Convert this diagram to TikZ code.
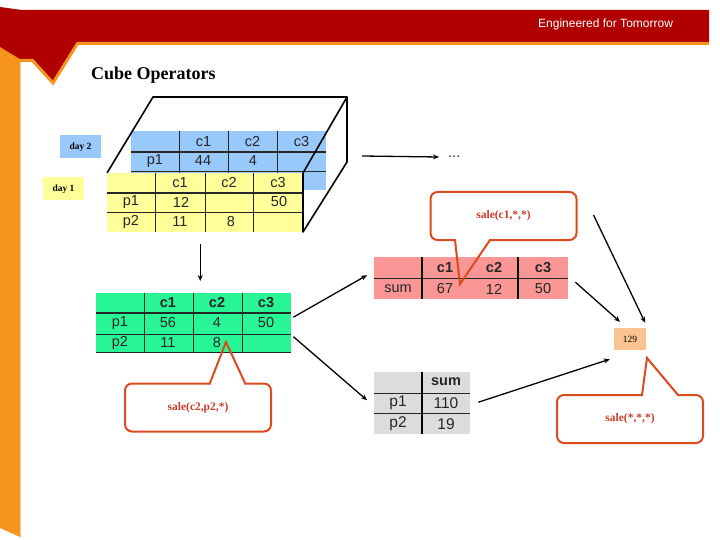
\documentclass[tikz,border=0pt]{standalone}
\usepackage{fontspec}
\setmainfont{Liberation Serif}
\setsansfont{Liberation Sans}
\definecolor{headred}{RGB}{176,0,0}
\definecolor{headorange}{RGB}{247,148,29}
\definecolor{daytwo}{RGB}{153,200,250}
\definecolor{dayone}{RGB}{255,255,153}
\definecolor{sliceg}{RGB}{40,245,150}
\definecolor{slicep}{RGB}{250,150,150}
\definecolor{sliceq}{RGB}{220,220,220}
\definecolor{peach}{RGB}{250,195,145}
\definecolor{calred}{RGB}{220,75,30}
\definecolor{caltext}{RGB}{200,60,40}
\usetikzlibrary{arrows.meta,positioning}

\begin{document}
\begin{tikzpicture}[x=1pt,y=-1pt,
  cubeline/.style={line width=1.6pt,line join=round},
  tab/.style={inner sep=0pt,anchor=north west},
  rule/.style={line width=0.9pt,black!85},
  headrule/.style={line width=1.8pt,black!85},
  cell/.style={font=\sffamily\fontsize{14.5}{15}\selectfont,text=black!85,inner sep=0pt},
  hcell/.style={cell,font=\sffamily\bfseries\fontsize{14.5}{15}\selectfont},
  daylbl/.style={font=\bfseries\fontsize{9.5}{10}\selectfont,minimum width=41pt,minimum height=23pt,inner sep=0pt},
  flow/.style={-{Stealth[length=6pt,width=5pt]},line width=1.3pt},
  callout/.style={draw=calred,line width=2pt,rounded corners=7pt,fill=white,text=caltext,
    minimum width=146pt,minimum height=48pt,font=\bfseries\fontsize{11.5}{12}\selectfont},
  calline/.style={draw=calred,line width=2pt,line join=miter}
]
\useasboundingbox (0,0) rectangle (720,540);

% slide header
\fill[headorange] (0,47) -- (20,58) -- (20,537) -- (0,528) -- cycle;
\draw[headorange!50,line width=0.8pt] (20.5,60) -- (20.5,537);
\fill[headred] (0,7) -- (22,10) -- (709,10) -- (709,42) -- (77,42) -- (53,81)
  -- (33,59) -- (20,59) -- (0,47) -- cycle;
\draw[headorange,line width=3pt] (709,43.5) -- (77.5,43.5) -- (53,83) -- (32.5,60.5) -- (20,60.5);
\node[anchor=west,text=white,font=\sffamily\fontsize{12}{13}\selectfont,inner sep=0pt] (motto) at (538,24) {Engineered for Tomorrow};
\node[anchor=west,font=\bfseries\fontsize{18}{20}\selectfont,inner sep=0pt] (title) at (91,75) {Cube Operators};

% day labels
\node[daylbl,fill=daytwo] (ltwo) at (80.5,147) {day 2};
\node[daylbl,fill=dayone] (lone) at (63.5,189) {day 1};

% back slice (day 2)
\node[tab,fill=daytwo,minimum width=195pt,minimum height=59pt] (dtwo) at (131,131) {};
\draw[headrule] (131,152) -- (326,152);
\draw[rule] (131,171) -- (326,171);
\foreach \x in {179,228,277} \draw[rule] (\x,131) -- (\x,190);
\foreach \x/\t in {203.5/c1,252.5/c2,301.5/c3} \node[cell] (b-\t) at (\x,142) {\t};
\foreach \x/\t/\n in {155/p1/a,203/44/b,253/4/c} \node[cell] (b-\n) at (\x,161) {\t};

% cube edges
\draw[cubeline] (107,173) -- (153,97) -- (347,97) -- (303,173);
\draw[cubeline] (347,97) -- (347,162) -- (303,232) -- (303,173);

% front slice (day 1)
\node[tab,fill=dayone,minimum width=196pt,minimum height=59pt] (done) at (107,173) {};
\draw[headrule] (107,193) -- (303,193);
\draw[rule] (107,212) -- (303,212);
\foreach \x in {155,205,253} \draw[rule] (\x,173) -- (\x,232);
\draw[line width=1.2pt] (303,173) -- (303,232);
\foreach \x/\t in {180/c1,229/c2,278/c3} \node[cell] (f-\t) at (\x,183) {\t};
\foreach \x/\y/\t/\n in {131/202/p1/a,181/202/12/b,279/202/50/c,131/222/p2/d,180/222/11/e,231/222/8/f}
  \node[cell] (f-\n) at (\x,\y) {\t};

% ellipsis to the right of the cube
\coordinate (cuber) at (347,156);
\node[cell,anchor=west,inner sep=2pt] (dots) at (446,157) {...};
\draw[flow] ([xshift=15pt]cuber) -- ([xshift=-7pt]dots.west);

% slice sale(*,*, day) summed over days
\node[tab,fill=sliceg,minimum width=195pt,minimum height=59pt] (grn) at (96,293) {};
\draw[headrule] (96,313) -- (291,313);
\draw[rule] (96,334) -- (291,334);
\draw[rule] (96,352) -- (291,352);
\foreach \x in {144,193,242} \draw[rule] (\x,293) -- (\x,352);
\foreach \x/\t in {168/c1,217/c2,266/c3} \node[hcell] (g-\t) at (\x,303) {\t};
\foreach \x/\y/\t/\n in {120/323/p1/a,168/323/56/b,217/323/4/c,266/323/50/d,120/343/p2/e,168/343/11/f,217/343/8/g}
  \node[cell] (g-\n) at (\x,\y) {\t};
\draw[flow] ([shift={(-5pt,-12pt)}]done.south) -- ([shift={(6.5pt,12pt)}]grn.north);

% sum over products
\node[tab,fill=slicep,minimum width=194pt,minimum height=42pt] (pnk) at (374,257) {};
\draw[rule] (374,278) -- (568,278);
\foreach \x in {422,518} \draw[line width=1.2pt] (\x,257) -- (\x,299);
\foreach \x/\t in {445/c1,494/c2,543/c3} \node[hcell] (p-\t) at (\x,268) {\t};
\foreach \x/\t/\n in {398/sum/a,445/67/b,494/12/c,543/50/d} \node[cell] (p-\n) at (\x,289) {\t};

% sum over columns
\node[tab,fill=sliceq,minimum width=96pt,minimum height=62pt] (gry) at (374,372) {};
\draw[rule] (374,393) -- (470,393);
\draw[rule] (374,413) -- (470,413);
\draw[line width=1.2pt] (422,372) -- (422,434);
\node[hcell] (q-h) at (446,382) {sum};
\foreach \y/\t/\v/\n in {403/p1/110/a,424/p2/19/b} {
  \node[cell,font=\sffamily\fontsize{15.5}{16}\selectfont] (q-\n) at (398,\y) {\t};
  \node[cell,font=\sffamily\fontsize{15.5}{16}\selectfont] (q-v\n) at (446,\y) {\v};
}

% grand total
\node[fill=peach,minimum width=32pt,minimum height=22pt,inner sep=0pt,font=\fontsize{9.5}{10}\selectfont] (tot) at (630,339) {129};

\draw[flow] ([shift={(2pt,5.5pt)}]grn.east) -- ([shift={(-7pt,3pt)}]pnk.west);
\draw[flow] ([shift={(2pt,-14pt)}]grn.east) -- ([shift={(-7pt,3pt)}]gry.west);

% callouts
\node[callout] (ctwo) at (198,407.5) {sale(c2,p2,*)};
\fill[white] (211,381.5) rectangle (244,384.5);
\draw[calline] (210,383) -- (226,342) -- (245,383);

\node[callout] (cone) at (503.5,216) {sale(c1,*,*)};
\fill[white] (456,238.5) rectangle (489,241.5);
\draw[calline] (455,240) -- (460,284) -- (490,240);

\node[callout] (call) at (630,419) {sale(*,*,*)};
\fill[white] (643,393.5) rectangle (677,396.5);
\draw[calline] (642,395) -- (647,358) -- (678,395);

\draw[flow] ([shift={(7pt,-4pt)}]pnk.east) -- ([shift={(-10pt,6pt)}]tot.north);
\draw[flow] ([shift={(8pt,1pt)}]gry.east) -- ([shift={(-4pt,-9pt)}]tot.south west);
\draw[flow] ([shift={(16pt,1pt)}]cone.east) -- ([shift={(-1pt,5pt)}]tot.north east);
\end{tikzpicture}
\end{document}
